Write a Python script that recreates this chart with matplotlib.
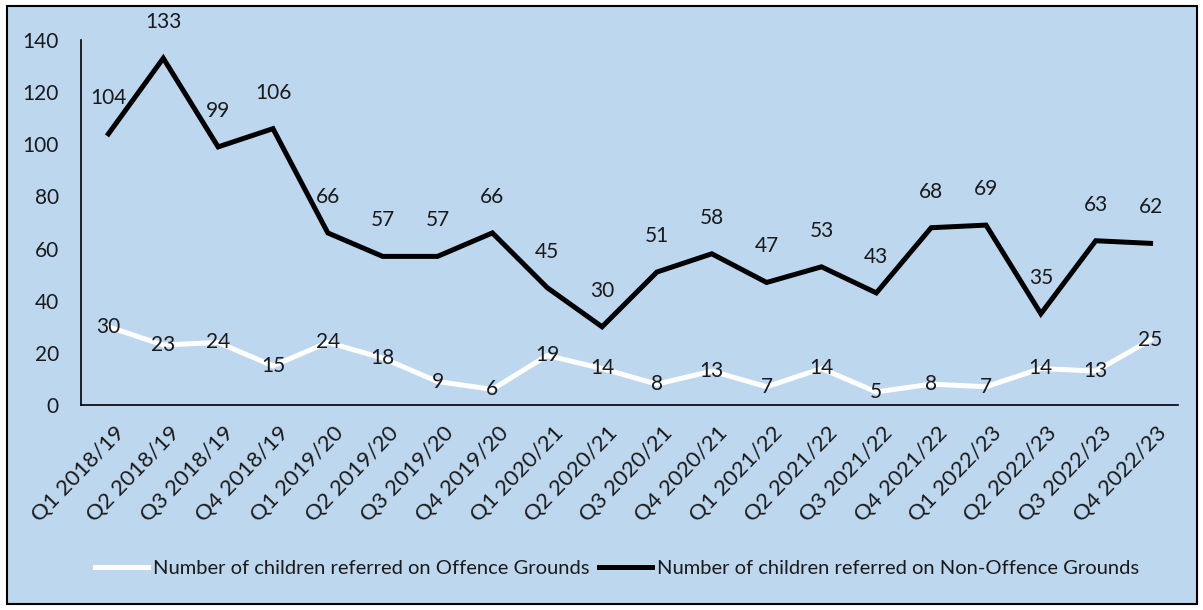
"""Quarterly referrals of children on offence and non-offence grounds."""

import matplotlib.pyplot as plt
import matplotlib.transforms as mtransforms
from matplotlib.patches import Rectangle
import numpy as np

quarters = [
    "Q1 2018/19", "Q2 2018/19", "Q3 2018/19", "Q4 2018/19",
    "Q1 2019/20", "Q2 2019/20", "Q3 2019/20", "Q4 2019/20",
    "Q1 2020/21", "Q2 2020/21", "Q3 2020/21", "Q4 2020/21",
    "Q1 2021/22", "Q2 2021/22", "Q3 2021/22", "Q4 2021/22",
    "Q1 2022/23", "Q2 2022/23", "Q3 2022/23", "Q4 2022/23",
]
offence = [30, 23, 24, 15, 24, 18, 9, 6, 19, 14, 8, 13, 7, 14, 5, 8, 7, 14, 13, 25]
non_offence = [104, 133, 99, 106, 66, 57, 57, 66, 45, 30, 51, 58, 47, 53, 43, 68, 69, 35, 63, 62]

offence_label = "Number of children referred on Offence Grounds"
non_offence_label = "Number of children referred on Non-Offence Grounds"

BG = "#BDD7EE"
TEXT = "#1a1a1a"

plt.rcParams["font.family"] = ["Lato", "DejaVu Sans"]

fig = plt.figure(figsize=(12.03, 6.10), dpi=100)
fig.patch.set_facecolor("white")
fig.add_artist(Rectangle((7 / 1203, 6 / 610), 1190 / 1203, 598 / 610,
                         transform=fig.transFigure, facecolor=BG,
                         edgecolor="black", linewidth=1.5, zorder=-1))

ax = fig.add_axes([81 / 1203, 1 - 405 / 610, (1178 - 81) / 1203, (405 - 40) / 610])
ax.set_facecolor("none")

x = np.arange(len(quarters))
ax.plot(x, offence, color="white", linewidth=3.6, solid_joinstyle="miter",
        label=offence_label, zorder=2)
ax.plot(x, non_offence, color="black", linewidth=3.6, solid_joinstyle="miter",
        label=non_offence_label, zorder=3)

for xi, v in zip(x, offence):
    ax.text(xi, v, str(v), ha="center", va="center", fontsize=15, color=TEXT, zorder=4)
for xi, v in zip(x, non_offence):
    ax.annotate(str(v), (xi, v), xytext=(0, 26), textcoords="offset points",
                ha="center", va="center", fontsize=15, color=TEXT, zorder=4)

ax.set_xlim(-0.5, len(quarters) - 0.5)
ax.set_ylim(0, 140)
ax.set_yticks(range(0, 141, 20))
ax.set_xticks(x)
ax.set_xticklabels(quarters, rotation=46, ha="right", rotation_mode="anchor")
ax.tick_params(axis="both", length=0, labelcolor=TEXT)
ax.tick_params(axis="y", labelsize=15, pad=16)
ax.tick_params(axis="x", labelsize=16, pad=13)

# nudge the slanted quarter labels a little to the right of their ticks
shift = mtransforms.ScaledTranslation(4 / 72, 0, fig.dpi_scale_trans)
for lbl in ax.get_xticklabels():
    lbl.set_transform(lbl.get_transform() + shift)

for side in ("top", "right"):
    ax.spines[side].set_visible(False)
for side in ("left", "bottom"):
    ax.spines[side].set_color("black")
    ax.spines[side].set_linewidth(1.2)

fig.legend(loc="center", bbox_to_anchor=(0.513, 1 - 568 / 610), ncol=2,
           frameon=False, fontsize=14.5, handlelength=2.6, handletextpad=0.25,
           columnspacing=0.5, labelcolor=TEXT)

fig.savefig("out.png", dpi=100)
